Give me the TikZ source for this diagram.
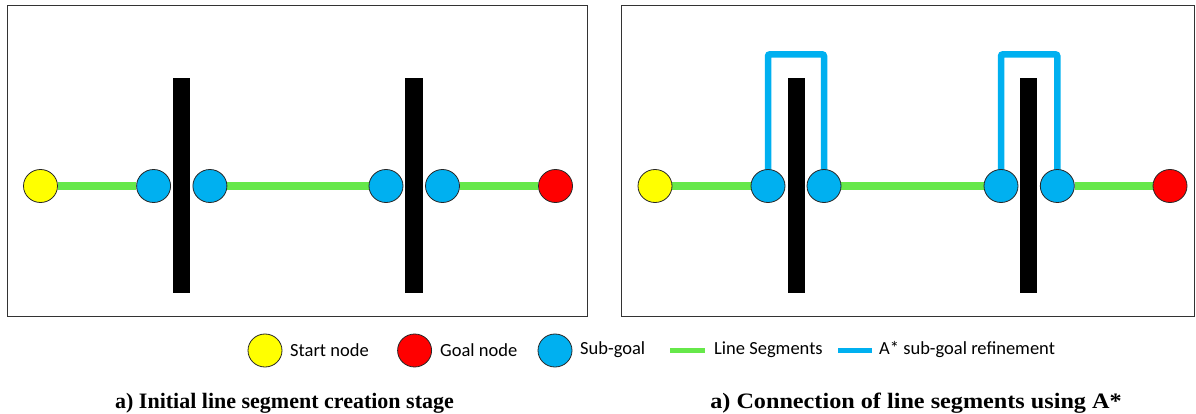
\documentclass[tikz,border=0pt]{standalone}
\usepackage{fontspec}
\setmainfont{Carlito}
\newfontfamily\capfont{Liberation Serif}
\usetikzlibrary{shapes.geometric}
\pgfdeclarelayer{background}
\pgfsetlayers{background,main}
\definecolor{cyellow}{HTML}{FFFF00}
\definecolor{cred}{HTML}{FF0000}
\definecolor{cblue}{HTML}{00B0F0}
\definecolor{cgreen}{HTML}{66E84A}
\tikzset{
  dot/.style={ellipse, draw=black!85, line width=0.8pt, minimum width=34pt, minimum height=33pt, inner sep=0pt},
  startdot/.style={dot, fill=cyellow},
  goaldot/.style={dot, fill=cred},
  subdot/.style={dot, fill=cblue},
  wall/.style={rectangle, fill=black, inner sep=0pt, minimum height=214.5pt},
  seg/.style={cgreen, line width=7.5pt},
  astar/.style={cblue, line width=6.5pt, rounded corners=2pt},
  frame/.style={draw=black!80, line width=1.2pt},
  legtext/.style={anchor=west, font=\fontsize{18.5}{20}\selectfont, inner sep=0pt},
  captext/.style={anchor=base, font=\capfont\bfseries\fontsize{22}{24}\selectfont, inner sep=0pt}
}
\begin{document}
\begin{tikzpicture}[x=1pt,y=-1pt]
\useasboundingbox (0,0) rectangle (1196,414);
% frames
\draw[frame] (7.5,5.5) rectangle (587.5,316.5);
\draw[frame] (621.5,5.5) rectangle (1194.5,316.5);
% left panel
\node[wall, minimum width=16.5pt] (wl1) at (181.6,185.5) {};
\node[wall, minimum width=18pt] (wl2) at (414,185.5) {};
\node[startdot] (ls) at (40.5,186) {};
\node[subdot] (la) at (153.6,186) {};
\node[subdot] (lb) at (209.9,186) {};
\node[subdot] (lc) at (386,186) {};
\node[subdot] (ld) at (442.5,186) {};
\node[goaldot] (lg) at (555.5,186) {};
% right panel
\node[wall, minimum width=16.5pt] (wr1) at (796.3,185.5) {};
\node[wall, minimum width=17pt] (wr2) at (1028.5,185.5) {};
\node[startdot] (rs) at (655,186) {};
\node[subdot] (ra) at (768,186) {};
\node[subdot] (rb) at (824,186) {};
\node[subdot] (rc) at (1001,186) {};
\node[subdot] (rd) at (1057.3,186) {};
\node[goaldot] (rg) at (1170,186) {};
\coordinate (top) at (0,54.3);
\begin{pgfonlayer}{background}
\draw[seg] (ls) -- (la);
\draw[seg] (lb) -- (lc);
\draw[seg] (ld) -- (lg);
\draw[seg] (rs) -- (ra);
\draw[seg] (rb) -- (rc);
\draw[seg] (rd) -- (rg);
\draw[astar] (ra.center) -- (ra.center |- top) -- (rb.center |- top) -- (rb.center);
\draw[astar] (rc.center) -- (rc.center |- top) -- (rd.center |- top) -- (rd.center);
\end{pgfonlayer}
% legend
\node[startdot] (k1) at (265,350.5) {};
\node[legtext] (t1) at (290,350) {Start node};
\node[goaldot] (k2) at (414.6,350.5) {};
\node[legtext] (t2) at (440,350) {Goal node};
\node[subdot] (k3) at (555,350.5) {};
\node[legtext] (t3) at (580,350) {Sub-goal};
\coordinate (g1) at (670,350.5);
\coordinate (g2) at (704.5,350.5);
\draw[cgreen, line width=5pt] (g1) -- (g2);
\node[legtext] (t4) at (714,350) {Line Segments};
\coordinate (b1) at (838,350.5);
\coordinate (b2) at (872,350.5);
\draw[cblue, line width=5pt] (b1) -- (b2);
\node[legtext] (t5) at (879,350) {A* sub-goal refinement};
% captions
\node[captext] (c1) at (284.5,408) {a) Initial line segment creation stage};
\node[captext] (c2) at (916,408) {\scalebox{1.1}[1]{a) Connection of line segments using A*}};
\end{tikzpicture}
\end{document}
